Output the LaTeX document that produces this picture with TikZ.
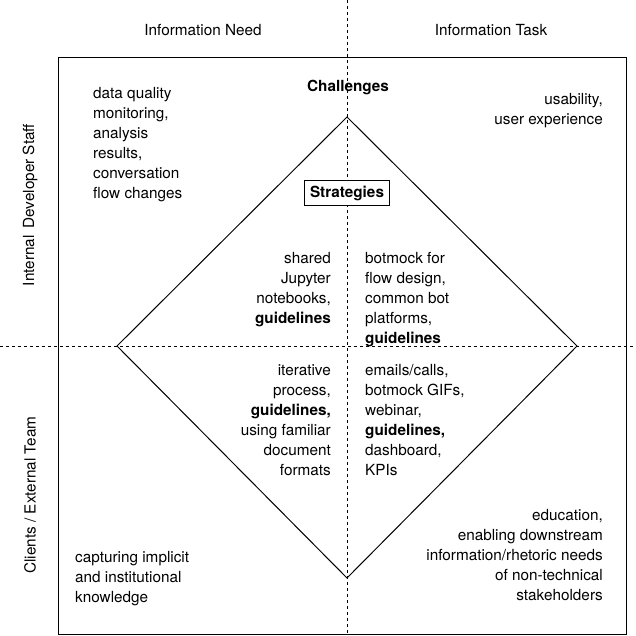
\documentclass[tikz,border=0pt]{standalone}
\usepackage{fontspec}
\setmainfont{TeX Gyre Heros}
\begin{document}
\begin{tikzpicture}[x=1pt,y=-1pt,
  txt/.style={inner sep=0pt,font=\fontsize{15.3}{20}\selectfont},
  dashln/.style={dashed,line width=0.9pt}]
\useasboundingbox (0,0) rectangle (636,636);
\draw[line width=1pt] (58,58) rectangle (626,634);
\coordinate (vt) at (347,0); \coordinate (vb) at (347,636);
\coordinate (hl) at (0,346); \coordinate (hr) at (636,346);
\draw[dashln] (vt) -- (vb);
\draw[dashln] (hl) -- (hr);
\coordinate (T) at (347,117); \coordinate (L) at (117,346);
\coordinate (R) at (577,346); \coordinate (B) at (347,578);
\draw[line width=1pt] (T) -- (R) -- (B) -- (L) -- cycle;
\node[txt] (n1) at (203,30) {Information Need};
\node[txt] (n2) at (491,30) {Information Task};
\node[txt,rotate=90] (n3) at (30,205) {Internal\, Developer Staff};
\node[txt,rotate=90] (n4) at (30,495) {Clients / External Team};
\node[txt,font=\fontsize{15.3}{20}\selectfont\bfseries] (ch) at (348,88) {Challenges};
\node[txt,draw,fill=white,line width=1pt,inner xsep=6pt,inner ysep=5pt,font=\fontsize{15.3}{20}\selectfont\bfseries] (st) at (347,193) {Strategies};
\node[txt,anchor=north west,align=left] (a) at (93,87) {data quality\\monitoring,\\analysis\\results,\\conversation\\flow changes};
\node[txt,anchor=north east,align=right] (b) at (603,93) {usability,\\user experience};
\node[txt,anchor=north east,align=right] (c) at (331,252) {shared\\Jupyter\\notebooks,\\\textbf{guidelines}};
\node[txt,anchor=north west,align=left] (d) at (365,252) {botmock for\\flow design,\\common bot\\platforms,\\\textbf{guidelines}};
\node[txt,anchor=north east,align=right] (e) at (331,364) {iterative\\process,\\\textbf{guidelines,}\\using familiar\\document\\formats};
\node[txt,anchor=north west,align=left] (f) at (365,364) {emails/calls,\\botmock GIFs,\\webinar,\\\textbf{guidelines,}\\dashboard,\\KPIs};
\node[txt,anchor=north east,align=right] (g) at (603,509) {education,\\enabling downstream\\information/rhetoric needs\\of non-technical\\stakeholders};
\node[txt,anchor=north west,align=left] (h) at (75,551) {capturing implicit\\and institutional\\knowledge};
\end{tikzpicture}
\end{document}
